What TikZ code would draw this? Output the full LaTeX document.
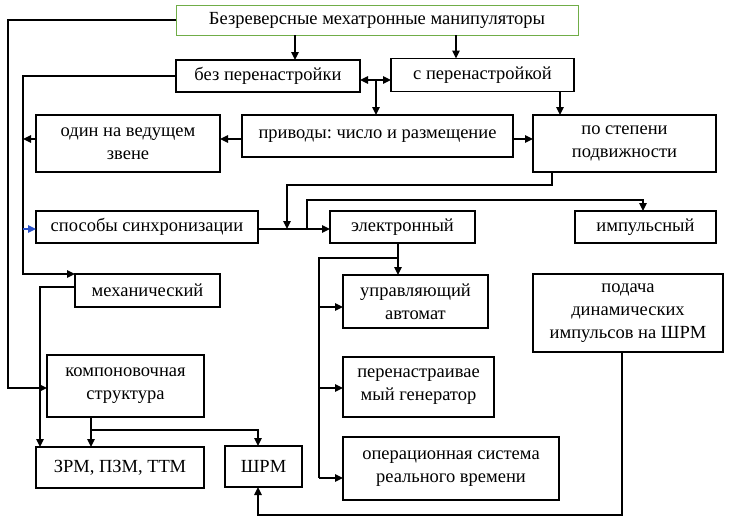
\documentclass[tikz,border=0pt]{standalone}
\usepackage{fontspec}
\setmainfont{Liberation Serif}
\newfontfamily\diagfont{Liberation Serif}
\usetikzlibrary{arrows.meta}
\definecolor{boxgreen}{RGB}{112,173,71}
\definecolor{arrblue}{RGB}{40,80,200}
\begin{document}
\begin{tikzpicture}[x=1pt,y=-1pt,
  box/.style={draw, line width=1.4pt, inner sep=0pt, outer sep=0pt, align=center,
    font=\diagfont\fontsize{18.5}{23}\selectfont\frenchspacing},
  topbox/.style={draw=boxgreen, line width=1pt, inner sep=0pt, outer sep=0pt, align=center,
    font=\diagfont\fontsize{18.5}{23}\selectfont\frenchspacing},
  conn/.style={line width=1.3pt},
  arr/.style={conn, -{Triangle[length=8pt,width=7.5pt]}},
  arrboth/.style={conn, {Triangle[length=8pt,width=7.5pt]}-{Triangle[length=8pt,width=7.5pt]}},
  arrblue/.style={conn, draw=arrblue, -{Triangle[length=8pt,width=7.5pt]}, color=arrblue}]
\useasboundingbox (0,0) rectangle (732,525);
% boxes
\node[topbox, minimum width=402pt, minimum height=30pt] (top) at (377,20) {Безреверсные мехатронные манипуляторы};
\node[box, minimum width=184pt, minimum height=32pt] (bez) at (268,76) {без перенастройки};
\node[box, minimum width=183pt, minimum height=33pt] (s) at (482.5,75) {с перенастройкой};
\node[box, minimum width=184pt, minimum height=57pt] (one) at (128,143.5) {один на ведущем\\звене};
\node[box, minimum width=271pt, minimum height=42pt] (priv) at (377.5,136) {приводы: число и размещение};
\node[box, minimum width=183pt, minimum height=57pt] (deg) at (624.5,143.5) {по степени\\подвижности};
\node[box, minimum width=222pt, minimum height=32pt] (sync) at (147,227) {способы синхронизации};
\node[box, minimum width=145pt, minimum height=32pt] (el) at (402.5,227) {электронный};
\node[box, minimum width=141pt, minimum height=32pt] (imp) at (645.5,227) {импульсный};
\node[box, minimum width=145pt, minimum height=33pt] (mech) at (147.5,290.5) {механический};
\node[box, minimum width=145pt, minimum height=53pt] (ctrl) at (415.5,301.5) {управляющий\\автомат};
\node[box, minimum width=190pt, minimum height=78pt] (pod) at (628,313) {подача\\динамических\\импульсов на ШРМ};
\node[box, minimum width=157pt, minimum height=62pt] (komp) at (125.5,386) {компоновочная\\структура};
\node[box, minimum width=151pt, minimum height=60pt] (gen) at (418.5,387) {перенастраивае\\мый генератор};
\node[box, minimum width=168pt, minimum height=41pt] (zrm) at (120,467.5) {ЗРМ, ПЗМ, ТТМ};
\node[box, minimum width=77pt, minimum height=41pt] (shrm) at (263.5,466.5) {ШРМ};
\node[box, minimum width=216pt, minimum height=63pt] (oper) at (451,468.5) {операционная система\\реального времени};
% helper coordinates
\coordinate (c8) at (8,20);
\coordinate (c23) at (23,0);
\coordinate (c40) at (40,0);
\coordinate (c91) at (91,0);
\coordinate (c258) at (258,0);
\coordinate (c287) at (287,0);
\coordinate (c295) at (295,0);
\coordinate (c319) at (319,0);
\coordinate (c376) at (376,80);
\coordinate (c398) at (398,0);
\coordinate (c456) at (456,0);
\coordinate (c560) at (560,0);
\coordinate (c643) at (643,0);
\coordinate (y80) at (0,80);
\coordinate (y139) at (0,139);
\coordinate (y229) at (0,229);
\coordinate (y287) at (0,287);
\coordinate (y307) at (0,307);
\coordinate (y388) at (0,388);
\coordinate (y430) at (0,430);
\coordinate (y478) at (0,478);
\coordinate (p552) at (552,185);
\coordinate (p307) at (307,200);
\coordinate (p319) at (319,258);
\coordinate (p622) at (622,515);
% connectors
\draw[arr] (top.west) -- (c8) |- (komp.west |- y388);
\draw[arr] (top.south -| c295) -- (bez.north -| c295);
\draw[arr] (top.south -| c456) -- (s.north -| c456);
\draw[arrboth] (bez.east |- y80) -- (s.west |- y80);
\draw[arr] (c376) -- (priv.north -| c376);
\draw[arr] (bez.west) -| (c23 |- mech.north) -- (mech.north west);
\draw[arr] (one.west |- y139) -- (c23 |- y139);
\draw[arr] (priv.west |- y139) -- (one.east |- y139);
\draw[arr] (priv.east |- y139) -- (deg.west |- y139);
\draw[arrblue] (c23 |- y229) -- (sync.west |- y229);
\draw[arr] (s.south -| c560) -- (deg.north -| c560);
\draw[arr] (deg.south -| p552) -- (p552) -| (c287 |- y229);
\draw[arr] (sync.east |- y229) -- (el.west |- y229);
\draw[arr] (p307 |- y229) -- (p307) -| (imp.north -| c643);
\draw[arr] (el.south -| c398) -- (ctrl.north -| c398);
\draw[conn] (c398 |- p319) -- (p319) -- (c319 |- y478);
\draw[arr] (c319 |- y307) -- (ctrl.west |- y307);
\draw[arr] (c319 |- y388) -- (gen.west |- y388);
\draw[arr] (c319 |- y478) -- (oper.west |- y478);
\draw[arr] (mech.west |- y287) -| (zrm.north -| c40);
\draw[arr] (komp.south -| c91) -- (zrm.north -| c91);
\draw[arr] (c91 |- y430) -| (shrm.north -| c258);
\draw[arr] (pod.south -| p622) -- (p622) -| (shrm.south -| c258);
\end{tikzpicture}
\end{document}
